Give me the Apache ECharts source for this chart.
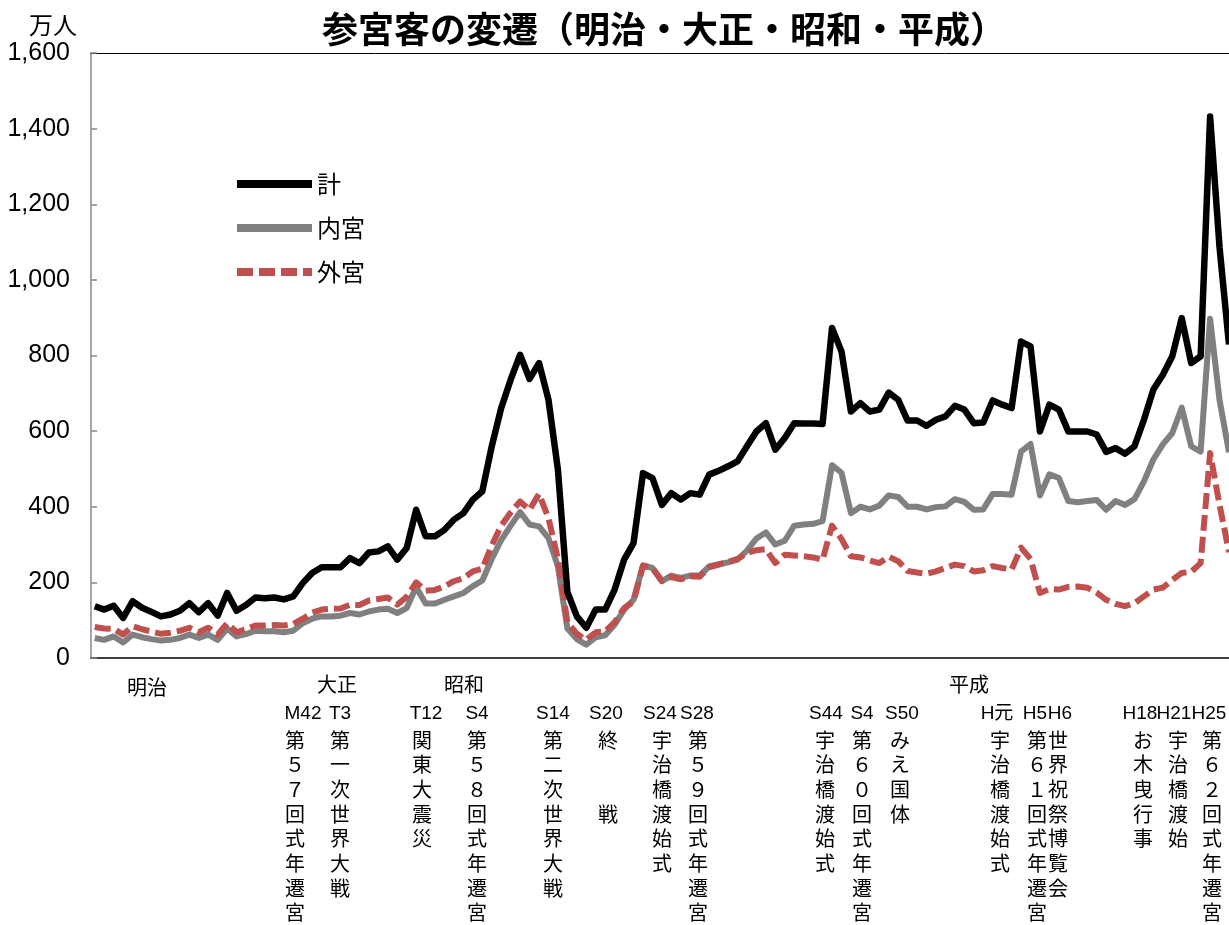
<!DOCTYPE html>
<html>
<head>
<meta charset="utf-8">
<script src="https://cdn.jsdelivr.net/npm/echarts@6/dist/echarts.min.js"></script>
<style>
html,body{margin:0;padding:0;background:#fff;}
#chart{width:1229px;height:925px;}
</style>
</head>
<body>
<div id="chart"></div>
<script>
// ---- data (万人), years 1895 (明治28) .. 2015 (平成27) ----
const years = [1895,1896,1897,1898,1899,1900,1901,1902,1903,1904,1905,1906,1907,1908,1909,1910,1911,1912,1913,1914,
1915,1916,1917,1918,1919,1920,1921,1922,1923,1924,1925,1926,1927,1928,1929,1930,1931,1932,1933,1934,
1935,1936,1937,1938,1939,1940,1941,1942,1943,1944,1945,1946,1947,1948,1949,1950,1951,1952,1953,1954,
1955,1956,1957,1958,1959,1960,1961,1962,1963,1964,1965,1966,1967,1968,1969,1970,1971,1972,1973,1974,
1975,1976,1977,1978,1979,1980,1981,1982,1983,1984,1985,1986,1987,1988,1989,1990,1991,1992,1993,1994,
1995,1996,1997,1998,1999,2000,2001,2002,2003,2004,2005,2006,2007,2008,2009,2010,2011,2012,2013,2014,2015];

const total = [137,128,138,106,150,133,122,110,115,125,145,121,145,112,172,125,140,160,158,160,
155,163,198,225,240,240,240,264,251,279,282,295,260,291,392,322,322,339,366,383,
419,441,560,661,736,802,738,780,683,498,175,110,80,128,128,181,260,304,489,476,
405,436,419,436,432,485,495,507,520,560,599,621,551,582,621,620,620,619,873,811,
652,674,652,657,702,683,628,628,614,630,639,667,657,621,623,681,670,661,837,824,
599,670,657,599,599,599,591,545,555,540,560,630,710,749,798,899,780,798,1432,1086,829];

const naiku = [53,48,57,41,62,55,50,46,48,53,62,53,62,48,78,57,63,72,71,71,
68,72,92,104,110,110,112,119,115,123,128,130,119,132,188,144,144,154,163,172,
190,205,262,312,350,386,353,348,317,242,78,50,35,55,60,88,128,154,245,238,
203,218,212,218,218,242,248,253,260,284,316,332,300,310,350,353,355,362,510,490,
383,400,393,403,430,426,400,400,393,399,401,420,413,392,393,434,434,432,546,566,
430,486,476,415,412,415,418,392,415,405,420,467,525,565,595,662,560,546,897,682,544];

const geku = [82,78,77,62,84,76,70,64,67,72,80,68,80,62,92,68,76,86,86,87,
86,90,104,120,128,130,131,141,140,152,156,160,141,162,200,178,180,189,203,211,
229,236,298,350,385,414,392,434,370,262,95,64,48,68,70,95,132,150,244,238,
204,214,208,216,215,240,247,254,262,278,285,288,251,273,271,269,266,260,350,315,
269,266,258,251,268,256,230,226,223,229,238,247,243,229,232,243,238,234,292,262,
172,182,181,188,189,186,173,154,143,137,145,163,181,186,206,225,228,251,542,405,280];

const seriesNames = ['計','内宮','外宮'];
const yMin = 0, yMax = 1600, yStep = 200;

const titleText = '参宮客の変遷（明治・大正・昭和・平成）';
const unitText = '万人';
const eraNames = ['明治','大正','昭和','平成'];
const eventLabels = ['M42','T3','T12','S4','S14','S20','S24','S28','S44','S4','S50','H元','H5','H6','H18','H21','H25'];
const eventTexts = ['第５７回式年遷宮','第一次世界大戦','関東大震災','第５８回式年遷宮','第二次世界大戦','終　　戦',
  '宇治橋渡始式','第５９回式年遷宮','宇治橋渡始式','第６０回式年遷宮','みえ国体','宇治橋渡始式',
  '第６１回式年遷宮','世界祝祭博覧会','お木曳行事','宇治橋渡始','第６２回式年遷宮'];

// ---- layout (pixels) ----
const eraX = [147, 337, 464, 969];
const eraY = [687, 684, 684, 684];
const labelX = [303,340,426,477,553,606,660,697,826,862,902,997,1035,1060,1140,1174,1209];
const colX   = [295,340,422,477,553,608,662,698,825,862,900,1000,1037,1058,1143,1178,1212];

const CJK = "'Noto Sans CJK JP','Noto Sans CJK SC',sans-serif";
const LAT = "'Liberation Sans','Noto Sans CJK JP',sans-serif";

const pairs = arr => arr.map((v, i) => [years[i], v]);

const graphics = [];
graphics.push({type:'text', x:664, y:29, style:{text:titleText, font:"bold 36px "+CJK, fill:'#000', align:'center', verticalAlign:'middle'}});
graphics.push({type:'text', x:53, y:25, style:{text:unitText, font:"24px "+CJK, fill:'#000', align:'center', verticalAlign:'middle'}});
eraNames.forEach((t, i) => graphics.push({type:'text', x:eraX[i], y:eraY[i], style:{text:t, font:"20px "+CJK, fill:'#000', align:'center', verticalAlign:'middle'}}));
eventLabels.forEach((t, i) => graphics.push({type:'text', x:labelX[i], y:714, style:{text:t, font:"19px "+LAT, fill:'#000', align:'center', verticalAlign:'middle'}}));
eventTexts.forEach((t, i) => graphics.push({type:'text', x:colX[i], y:727.6, style:{text:t.split('').join('\n'), font:"20px "+CJK, lineHeight:24.7, fill:'#000', align:'center', verticalAlign:'top'}}));

const chart = echarts.init(document.getElementById('chart'), null, {renderer:'canvas'});
chart.setOption({
  animation:false,
  backgroundColor:'#fff',
  grid:{left:91, right:0, top:53, bottom:267, containLabel:false},
  legend:{
    orient:'vertical', left:233, top:172, padding:0, itemWidth:75, itemHeight:24, itemGap:20, itemTextGap:5,
    data:seriesNames,
    itemStyle:{opacity:0},
    lineStyle:{width:8},
    textStyle:{fontSize:24, color:'#000', fontFamily:CJK}
  },
  xAxis:[
    {type:'value', min:1894.6, max:2015, position:'bottom',
     axisLine:{show:true, onZero:false, lineStyle:{color:'#000', width:1.5}},
     axisTick:{show:false}, axisLabel:{show:false}, splitLine:{show:false}},
    {type:'value', min:1894.6, max:2015, position:'top',
     axisLine:{show:true, onZero:false, lineStyle:{color:'#000', width:1}},
     axisTick:{show:false}, axisLabel:{show:false}, splitLine:{show:false}}
  ],
  yAxis:{
    type:'value', min:yMin, max:yMax, interval:yStep,
    axisLine:{show:true, lineStyle:{color:'#888', width:1.5}},
    axisTick:{show:true, inside:true, length:6, lineStyle:{color:'#888', width:1.5}},
    axisLabel:{margin:21, fontSize:25, color:'#000', fontFamily:LAT,
      formatter:v => v.toLocaleString('en-US')},
    splitLine:{show:false}
  },
  series:[
    {name:seriesNames[0], type:'line', data:pairs(total), symbol:'none', z:3,
     lineStyle:{color:'#000', width:6.5, join:'round'}, itemStyle:{color:'#000'}},
    {name:seriesNames[1], type:'line', data:pairs(naiku), symbol:'none', z:2,
     lineStyle:{color:'#808080', width:6, join:'round'}, itemStyle:{color:'#808080'}},
    {name:seriesNames[2], type:'line', data:pairs(geku), symbol:'none', z:2,
     lineStyle:{color:'#C0504D', width:6, type:[16,6], join:'round'}, itemStyle:{color:'#C0504D'}}
  ],
  graphic:graphics
});
</script>
</body>
</html>
